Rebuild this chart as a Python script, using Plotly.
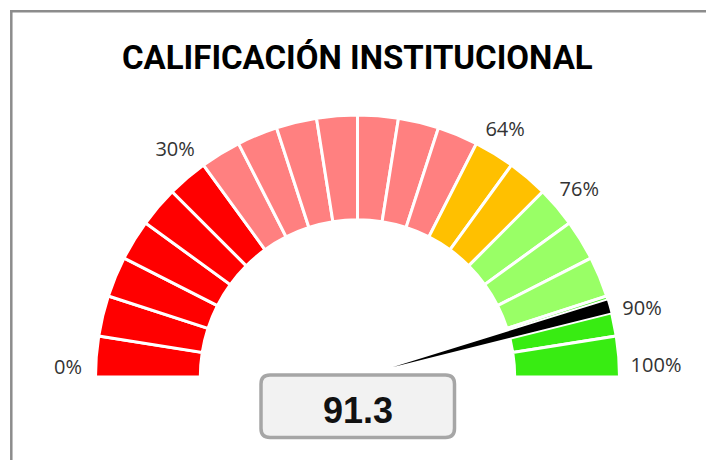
import plotly.graph_objects as go

# ---------------- data ----------------
TITLE = "CALIFICACIÓN INSTITUCIONAL"
SCORE = 91.3
SCORE_TEXT = "91.3"
# gauge segments (percentage points each), left to right
SEGMENT_SIZES = [5, 5, 5, 5, 5, 5,          # red band 0-30
                 5, 5, 5, 5, 5, 5, 5,       # pink band 30-65
                 5, 5,                      # orange band 65-75
                 5, 5, 5,                   # light green band 75-90
                 5, 5]                      # green band 90-100
SEGMENT_COLORS = (["#FF0000"] * 6 + ["#FF8080"] * 7 + ["#FFC000"] * 2
                  + ["#99FF66"] * 3 + ["#38EC12"] * 2)
LABEL_TEXT = ["0%", "30%", "64%", "76%", "90%", "100%"]
# where each label sits, on the gauge scale (0-100) and radius (outer = 1)
LABEL_AT = [0.9, 28.4, 67.2, 77.8, 92.6, 98.9]
LABEL_R = [1.105, 1.109, 1.095, 1.104, 1.116, 1.14]

# ---------------- geometry / style ----------------
W, H = 706, 460
DEG_PER_PCT = 180 / 100
INNER = 0.6
RMAX = 1.2
CX, CY, R = 357.5, 377, 262

def px(x):
    return x / W

def py(y):
    return 1 - y / H

starts = []
acc = 0
for s in SEGMENT_SIZES:
    starts.append(acc)
    acc += s
thetas = [(st + s / 2) * DEG_PER_PCT for st, s in zip(starts, SEGMENT_SIZES)]
widths = [s * DEG_PER_PCT for s in SEGMENT_SIZES]

fig = go.Figure()
fig.add_trace(go.Barpolar(
    theta=thetas, width=widths,
    base=[INNER] * len(SEGMENT_SIZES), r=[1 - INNER] * len(SEGMENT_SIZES),
    marker=dict(color=SEGMENT_COLORS, line=dict(color="white", width=3)),
    hoverinfo="skip", showlegend=False,
))
fig.add_trace(go.Barpolar(
    theta=[SCORE * DEG_PER_PCT], width=[3.2], base=[0], r=[1.0],
    marker=dict(color="black", line=dict(color="white", width=2)),
    hoverinfo="skip", showlegend=False,
))
fig.add_trace(go.Scatterpolar(
    theta=[v * DEG_PER_PCT for v in LABEL_AT], r=LABEL_R,
    mode="text", text=LABEL_TEXT, textposition="middle center",
    textfont=dict(family="Open Sans", size=20, color="#333333"),
    cliponaxis=False, hoverinfo="skip", showlegend=False,
))

RA = R * RMAX
fig.update_layout(
    width=W, height=H,
    margin=dict(l=0, r=0, t=0, b=0),
    paper_bgcolor="white",
    hovermode=False,
    polar=dict(
        domain=dict(x=[px(CX - RA), px(CX + RA)], y=[py(CY), py(CY - RA)]),
        sector=[0, 180],
        bgcolor="rgba(0,0,0,0)",
        radialaxis=dict(visible=False, range=[0, RMAX]),
        angularaxis=dict(visible=False, rotation=180, direction="clockwise"),
    ),
)

# title
fig.add_annotation(
    x=px(357), y=py(57), xref="paper", yref="paper",
    text="<b>" + TITLE + "</b>", showarrow=False,
    font=dict(family="Roboto, sans-serif", size=33, color="black"),
    xanchor="center", yanchor="middle",
)

# outer frame (top and left edges visible)
fig.add_shape(type="line", xref="paper", yref="paper",
              x0=px(10), x1=px(W + 5), y0=py(11.3), y1=py(11.3),
              line=dict(color="#8C8C8C", width=2.5))
fig.add_shape(type="line", xref="paper", yref="paper",
              x0=px(11.3), x1=px(11.3), y0=py(10), y1=py(H + 5),
              line=dict(color="#8C8C8C", width=2.5))

# rounded value box
x0, x1, y0, y1, rr = 261, 454.5, 375, 437.5, 9
path = (f"M {px(x0 + rr)},{py(y0)} L {px(x1 - rr)},{py(y0)} "
        f"Q {px(x1)},{py(y0)} {px(x1)},{py(y0 + rr)} "
        f"L {px(x1)},{py(y1 - rr)} Q {px(x1)},{py(y1)} {px(x1 - rr)},{py(y1)} "
        f"L {px(x0 + rr)},{py(y1)} Q {px(x0)},{py(y1)} {px(x0)},{py(y1 - rr)} "
        f"L {px(x0)},{py(y0 + rr)} Q {px(x0)},{py(y0)} {px(x0 + rr)},{py(y0)} Z")
fig.add_shape(type="path", xref="paper", yref="paper", path=path,
              fillcolor="#F2F2F2", line=dict(color="#A6A6A6", width=3.5))
fig.add_annotation(
    x=px(357.5), y=py(410), xref="paper", yref="paper",
    text="<b>" + SCORE_TEXT + "</b>", showarrow=False,
    font=dict(family="Liberation Sans, Arial, sans-serif", size=36, color="#111111"),
    xanchor="center", yanchor="middle",
)

fig.write_html("out.html", config={"displayModeBar": False},
               post_script="document.body.style.margin='0';")
